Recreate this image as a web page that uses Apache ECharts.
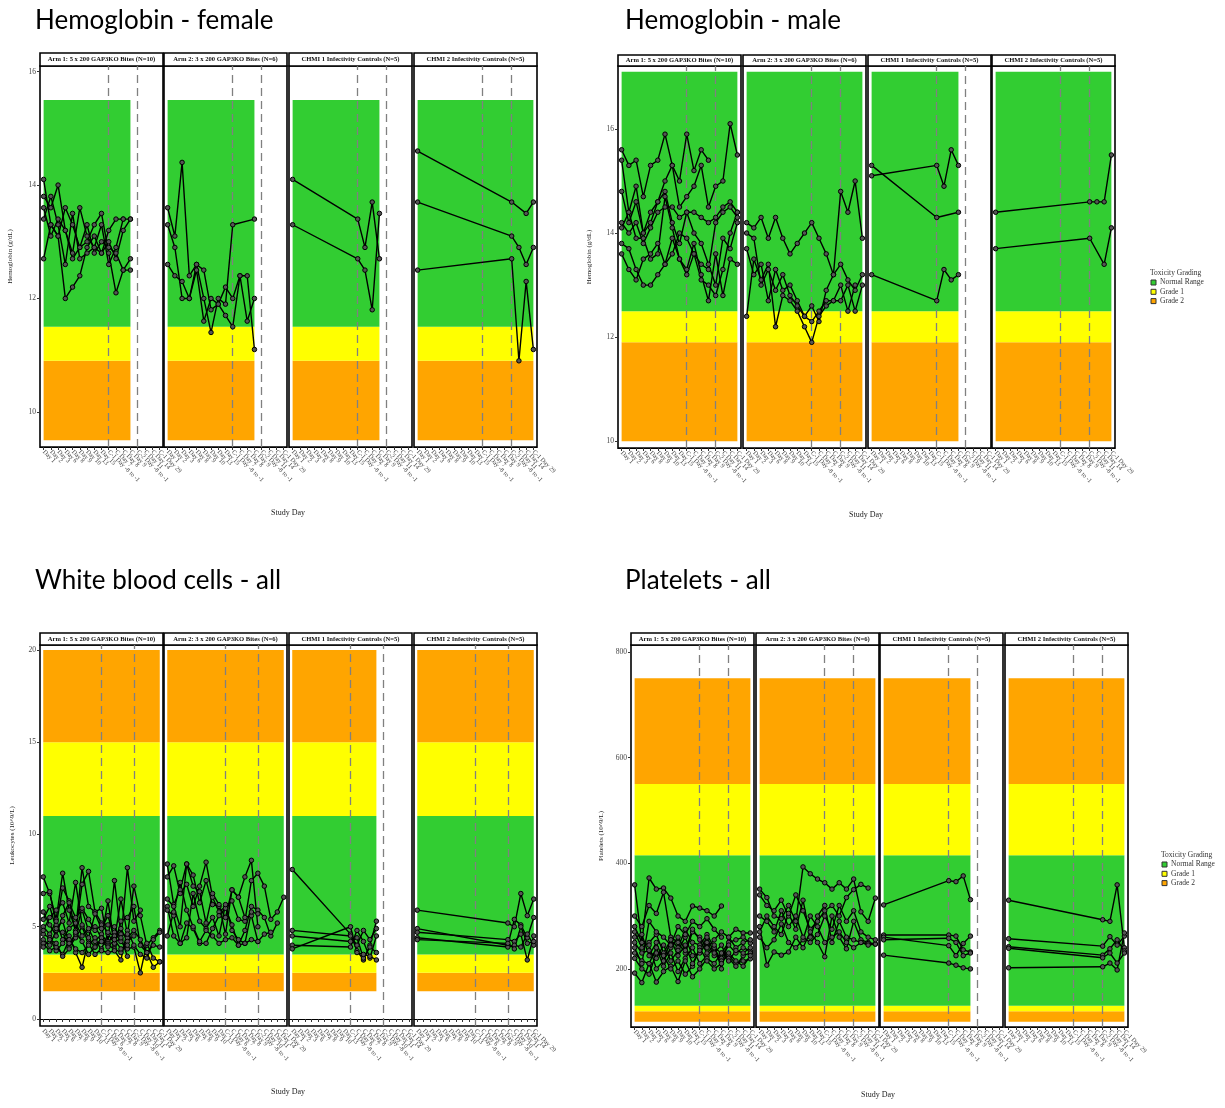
<!DOCTYPE html>
<html><head><meta charset="utf-8">
<script src="https://cdn.jsdelivr.net/npm/echarts@6/dist/echarts.min.js"></script>
<style>html,body{margin:0;padding:0;background:#fff}#c{width:1225px;height:1108px}</style>
</head><body><div id="c"></div><script>
// ---------- categories / tick labels ----------
const hbDays = ["Day 1","Day 2","Day 3","Day 6","Day 8","Day 9","Day 10","Day 13","Day 15","C-1 Day -8 to -1","C Day 7","C Day 8","C Day 9","C-2 Day -8 to -1","C Day 11","C Day 14","C-1 Day 29"];
const wbcDays = ["Day 1","Day 2","Day 3","Day 6","Day 7","Day 8","Day 9","Day 10","Day 13","C-1 Day -8 to -1","C Day 6","C Day 7","C Day 8","C Day 9","C-2 Day -8 to -1","C Day 10","C Day 11","C Day 14","C-1 Day 29"];
const facetNames = ["Arm 1: 5 x 200 GAP3KO Bites (N=10)","Arm 2: 3 x 200 GAP3KO Bites (N=6)","CHMI 1 Infectivity Controls (N=5)","CHMI 2 Infectivity Controls (N=5)"];
const gradeNames = ["Normal Range","Grade 1","Grade 2"];
const hbTicks = [10,12,14,16];
const wbcTicks = [0,5,10,15,20];
const pltTicks = [200,400,600,800];
// reference (dashed) visit indices
const hbDash = [9,13];
const wbcDash = [9,14];
// toxicity bands [low, high, grade]
const hbFemaleBands = [[9.5,10.9,"Grade 2"],[10.9,11.5,"Grade 1"],[11.5,15.5,"Normal Range"]];
const hbMaleBands = [[10.0,11.9,"Grade 2"],[11.9,12.5,"Grade 1"],[12.5,17.1,"Normal Range"]];
const wbcBands = [[1.5,2.5,"Grade 2"],[2.5,3.5,"Grade 1"],[3.5,11,"Normal Range"],[11,15,"Grade 1"],[15,20,"Grade 2"]];
const pltBands = [[100,120,"Grade 2"],[120,130,"Grade 1"],[130,415,"Normal Range"],[415,550,"Grade 1"],[550,750,"Grade 2"]];
const _ = null;
// ---------- Hemoglobin female ----------
const hbFemArm1 = [
 [14.1,13.3,13.1,13.6,13.3,12.9,13.0,13.3,13.5,12.8,12.1,12.5,12.5],
 [13.8,13.6,14.0,13.2,12.8,13.6,13.1,12.9,12.8,13.2,13.4,13.4,_],
 [13.6,13.1,13.4,13.2,12.7,12.9,13.3,12.8,13.0,12.9,12.8,12.5,12.7],
 [12.7,13.3,13.1,12.0,12.2,12.4,12.9,13.1,12.8,13.0,12.7,13.2,13.4],
 [13.4,13.8,13.3,12.6,13.5,12.7,12.8,12.9,13.3,12.6,12.9,13.4,13.4]
];
const hbFemArm2 = [
 [13.6,13.1,14.4,12.4,12.6,12.0,11.4,12.0,11.9,13.3,_,_,13.4],
 [13.3,12.9,12.0,12.0,12.6,12.5,11.8,11.9,11.7,11.5,12.4,12.4,11.1],
 [12.6,12.4,12.3,12.0,12.5,11.6,12.0,11.9,12.2,12.0,12.4,11.6,12.0]
];
const hbFemChmi1 = [
 [14.1,_,_,_,_,_,_,_,_,13.4,12.9,13.7,12.7],
 [13.3,_,_,_,_,_,_,_,_,12.7,12.5,11.8,13.5]
];
const hbFemChmi2 = [
 [14.6,_,_,_,_,_,_,_,_,_,_,_,_,13.7,_,13.5,13.7],
 [13.7,_,_,_,_,_,_,_,_,_,_,_,_,13.1,12.9,12.6,12.9],
 [12.5,_,_,_,_,_,_,_,_,_,_,_,_,12.7,10.9,12.3,11.1]
];
// ---------- Hemoglobin male ----------
const hbMaleArm1 = [
 [15.6,15.3,15.4,14.7,15.3,15.4,15.9,15.3,15.0,15.9,15.2,15.6,15.4],
 [15.4,14.4,14.9,14.0,14.4,14.6,15.0,15.3,14.5,14.7,14.9,15.3,14.5,14.9,15.0,16.1,15.5],
 [14.8,14.2,14.6,14.0,14.2,14.6,14.8,14.2,13.8,14.4,14.4,14.3,14.2,14.3,14.5,14.6,14.4],
 [13.8,13.7,13.3,13.0,13.0,13.2,13.4,13.9,13.5,13.3,13.8,13.2,12.7,13.6,12.8,13.5,13.4],
 [13.6,13.3,13.1,13.5,13.6,13.8,13.4,13.6,14.0,13.9,13.6,13.4,13.3,14.2,14.4,14.5,14.3],
 [14.1,14.4,13.9,13.9,13.5,13.6,14.7,14.1,13.5,13.2,13.6,13.1,13.0,12.8,13.3,14.0,14.4],
 [14.2,14.0,14.2,13.8,14.1,14.4,14.5,14.5,14.3,14.4,14.0,13.8,13.4,13.0,13.9,13.7,14.2]
];
const hbMaleArm2 = [
 [14.2,14.1,14.3,13.9,14.3,13.9,13.6,13.8,14.0,14.2,13.9,13.6,13.2,14.8,14.4,15.0,13.9],
 [13.7,13.2,13.4,12.7,13.3,12.9,13.0,12.7,12.4,12.3,12.5,12.7,12.7,13.0,12.5,13.0,_],
 [12.4,13.5,13.1,13.4,12.2,12.8,12.7,12.5,12.2,11.9,12.4,12.6,12.7,12.7,13.0,12.5,13.0],
 [14.0,13.9,13.0,13.3,12.9,13.2,12.8,12.6,12.4,12.6,12.3,12.9,13.2,13.4,13.1,12.9,13.2]
];
const hbMaleChmi1 = [
 [15.1,_,_,_,_,_,_,_,_,15.3,14.9,15.6,15.3],
 [15.3,_,_,_,_,_,_,_,_,14.3,_,_,14.4],
 [13.2,_,_,_,_,_,_,_,_,12.7,13.3,13.1,13.2]
];
const hbMaleChmi2 = [
 [14.4,_,_,_,_,_,_,_,_,_,_,_,_,14.6,14.6,14.6,15.5],
 [13.7,_,_,_,_,_,_,_,_,_,_,_,_,13.9,_,13.4,14.1]
];
// ---------- White blood cells ----------
const wbcArm1 = [
 [7.7,6.8,5.4,7.9,5.9,4.8,8.2,6.1,5.8,6.0,4.2,7.5,4.6,4.5,7.2,5.6,4.0,4.4,4.8],
 [6.8,6.9,5.1,7.1,6.4,4.7,7.3,8.0,5.8,5.2,5.1,5.0,4.3,8.2,5.3,5.9],
 [5.8,5.1,4.5,5.6,6.3,5.5,5.9,4.8,5.0,4.4,6.4,4.0,5.3,5.5,6.1,4.0,3.6,4.0,3.9],
 [5.0,4.6,5.3,4.3,4.9,5.2,4.5,4.9,4.2,4.6,4.1,4.7,4.2,3.8,3.9,2.5,4.1,3.3,3.1],
 [4.6,4.4,3.7,4.1,4.5,3.6,2.8,4.3,3.9,4.4,4.0,3.8,3.6,4.4,4.8,4.3,3.6,2.8,3.1],
 [4.3,4.0,4.8,4.7,3.9,4.4,5.0,4.1,3.5,3.8,4.6,4.1,4.4,3.4],
 [4.1,3.7,3.9,3.5,4.3,3.8,3.6,4.0,4.4,3.7,3.6,3.7,3.2,4.8,4.0,3.5,3.3,4.3,4.7],
 [5.4,6.1,4.9,5.3,4.1,4.6,6.0,5.4,4.8,5.1,4.7,4.5,4.9,4.2,4.5],
 [4.8,5.5,5.9,6.3,5.2,7.4,5.1,4.4,5.7,4.9,5.6,4.3,6.5,4.6],
 [3.9,4.3,4.1,3.4,3.8,4.7,4.2,3.5,3.9,4.2,3.9,4.3,3.8,4.0]
];
const wbcArm2 = [
 [8.4,6.2,7.0,8.4,7.8,6.3,7.5,6.2,6.1,5.5,7.0,6.6,7.7,8.6,5.0],
 [7.7,8.3,6.8,7.3,6.1,7.2,8.5,6.6,5.8,6.1,6.4,5.4,5.3,7.5,7.9,7.2,5.4,5.8,6.6],
 [6.5,6.1,5.0,8.4,7.2,6.9,5.2,6.8,6.2,4.6,7.0,6.6,5.5,5.6,4.2],
 [6.1,4.5,4.1,5.2,4.9,4.1,4.1,4.9,5.6,6.0,5.1,4.0,4.8,6.1,5.9,5.5,4.5,5.2],
 [5.9,5.6,4.1,4.4,6.8,5.3,4.9,5.5,4.5,6.2,4.8,4.3,4.1,5.8,5.7],
 [4.5,5.8,7.4,5.9,5.0,4.2,4.8,4.5,4.1,4.3,4.4,4.0,4.1,4.3,4.2,4.6,4.7]
];
const wbcChmi1 = [
 [8.1,_,_,_,_,_,_,_,_,4.6,3.7,3.2,4.0,5.3],
 [4.8,_,_,_,_,_,_,_,_,4.5,4.0,4.8,4.3,4.9],
 [4.5,_,_,_,_,_,_,_,_,4.2,4.4,3.3,3.9,3.6],
 [4.0,_,_,_,_,_,_,_,_,3.9,4.8,4.2,3.3,4.5],
 [3.8,_,_,_,_,_,_,_,_,5.0,3.6,3.5,3.4,3.2]
];
const wbcChmi2 = [
 [5.9,_,_,_,_,_,_,_,_,_,_,_,_,_,5.2,5.0,6.8,5.6,6.5],
 [4.9,_,_,_,_,_,_,_,_,_,_,_,_,_,4.0,5.4,5.1,4.4,5.5],
 [4.7,_,_,_,_,_,_,_,_,_,_,_,_,_,4.3,4.2,4.6,3.2,4.5],
 [4.4,_,_,_,_,_,_,_,_,_,_,_,_,_,3.9,4.0,3.9,4.6,4.0],
 [4.3,_,_,_,_,_,_,_,_,_,_,_,_,_,4.1,3.8,5.0,4.1,4.2]
];
// ---------- Platelets ----------
const pltArm1 = [
 [359,250,372,351,353,334,300,290,319,315,310,300,319],
 [300,280,320,305,345,260,250,230,270,260,240,255,270,260,275,268,268],
 [270,240,250,265,230,255,240,275,250,245,265,240,230,250,255,260,249],
 [250,230,235,220,245,215,235,260,225,230,250,225,220,245,230,240,234],
 [230,215,210,240,205,230,195,220,240,210,225,240,215,225,210,215,219],
 [192,174,210,175,195,205,176,215,185,200,220,210,230,220,205,225,230],
 [260,265,225,250,215,240,260,235,275,255,230,245,200,260,240,250,255],
 [220,200,190,230,225,200,215,190,205,240,215,200,210,230,215,205,225],
 [240,210,290,270,260,245,280,265,290,280,295,275,260],
 [280,250,245,200,215,255,225,245,210,235,260,230,245,215,235,230,240]
];
const pltArm2 = [
 [351,335,300,295,320,290,393,380,370,363,351,363,351,370,308,290,334],
 [340,320,310,330,300,340,310,275,290,310,320,300,335,350,360,353],
 [280,207,232,226,232,260,240,270,250,223,300,260,238,290,255,250,247],
 [270,300,280,265,305,275,330,260,300,320,250,290,260,255,250,248],
 [260,240,255,285,250,240,255,300,280,250,260,270,250,240,250,245,247],
 [300,290,270,310,280,300,260,250,265,300,275,320,290,310,270,260,255]
];
const pltChmi1 = [
 [321,_,_,_,_,_,_,_,_,367,365,376,331],
 [264,_,_,_,_,_,_,_,_,264,262,236,232],
 [260,_,_,_,_,_,_,_,_,244,225,248,262],
 [226,_,_,_,_,_,_,_,_,211,207,202,200],
 [255,_,_,_,_,_,_,_,_,258,250,225,230]
];
const pltChmi2 = [
 [330,_,_,_,_,_,_,_,_,_,_,_,_,293,290,359,240],
 [257,_,_,_,_,_,_,_,_,_,_,_,_,243,261,245,262],
 [242,_,_,_,_,_,_,_,_,_,_,_,_,226,238,255,234],
 [239,_,_,_,_,_,_,_,_,_,_,_,_,221,230,211,230],
 [202,_,_,_,_,_,_,_,_,_,_,_,_,204,211,198,268]
];

// ---------- layout (styles/positions) ----------
const gradeColor = {"Normal Range":"#32CD32","Grade 1":"#FFFF00","Grade 2":"#FFA500"};
const SERIF = "'Liberation Serif','DejaVu Serif',serif";
const panels = [
 {title:"Hemoglobin - female", tx:35, ty:21, lefts:[40,164,289,414], top:66, h:381, w:123, stripH:13,
  ymin:9.38, ymax:16.1, ticks:hbTicks, ylab:"Hemoglobin (g/dL)", ylx:10, sdx:288, sdy:513,
  cats:hbDays, dash:hbDash, bands:hbFemaleBands, data:[hbFemArm1,hbFemArm2,hbFemChmi1,hbFemChmi2]},
 {title:"Hemoglobin - male", tx:625, ty:21, lefts:[618,743,868,992], top:66, h:382, w:123, stripH:11,
  ymin:9.87, ymax:17.21, ticks:hbTicks, ylab:"Hemoglobin (g/dL)", ylx:589, sdx:866, sdy:515,
  cats:hbDays, dash:hbDash, bands:hbMaleBands, data:[hbMaleArm1,hbMaleArm2,hbMaleChmi1,hbMaleChmi2],
  legend:{x:1150, y:273}},
 {title:"White blood cells - all", tx:35, ty:581, lefts:[40,164,289,414], top:645, h:381, w:123, stripH:12,
  ymin:-0.38, ymax:20.27, ticks:wbcTicks, ylab:"Leukocytes (10^9/L)", ylx:12, sdx:288, sdy:1092,
  cats:wbcDays, dash:wbcDash, bands:wbcBands, data:[wbcArm1,wbcArm2,wbcChmi1,wbcChmi2]},
 {title:"Platelets - all", tx:625, ty:581, lefts:[631,756,880,1005], top:645, h:382, w:123, stripH:12,
  ymin:90, ymax:813, ticks:pltTicks, ylab:"Platelets (10^9/L)", ylx:601, sdx:878, sdy:1095,
  cats:hbDays, dash:hbDash, bands:pltBands, data:[pltArm1,pltArm2,pltChmi1,pltChmi2],
  legend:{x:1161, y:855}}
];

const grid=[], xAxis=[], yAxis=[], series=[], graphic=[];
let g=0;
panels.forEach(p=>{
  graphic.push({type:'text', x:p.tx, y:p.ty, style:{text:p.title, font:"26px Lato, 'Open Sans', sans-serif", fill:'#000', verticalAlign:'middle'}});
  graphic.push({type:'text', x:p.ylx, y:p.top+p.h/2, rotation:Math.PI/2, style:{text:p.ylab, font:"7px "+SERIF, fill:'#222', align:'center', verticalAlign:'middle'}});
  graphic.push({type:'text', x:p.sdx, y:p.sdy, style:{text:'Study Day', font:"8px "+SERIF, fill:'#222', align:'center', verticalAlign:'middle'}});
  if(p.legend){
    const L=p.legend;
    graphic.push({type:'text', x:L.x, y:L.y, style:{text:'Toxicity Grading', font:"7.5px "+SERIF, fill:'#333', verticalAlign:'middle'}});
    gradeNames.forEach((nm,i)=>{
      graphic.push({type:'rect', shape:{x:L.x+1, y:L.y+7+i*9.3, width:5, height:5}, style:{fill:gradeColor[nm], stroke:'#333', lineWidth:1}});
      graphic.push({type:'text', x:L.x+10, y:L.y+9.5+i*9.3, style:{text:nm, font:"7.5px "+SERIF, fill:'#333', verticalAlign:'middle'}});
    });
  }
  p.data.forEach((subjects,f)=>{
    const left=p.lefts[f];
    grid.push({left:left, top:p.top, width:p.w, height:p.h, show:true, borderColor:'#000', borderWidth:1.6, backgroundColor:'#fff', containLabel:false});
    graphic.push({type:'rect', shape:{x:left, y:p.top-p.stripH, width:p.w, height:p.stripH}, style:{fill:'#fff', stroke:'#000', lineWidth:1.6}});
    graphic.push({type:'text', x:left+p.w/2, y:p.top-p.stripH/2, style:{text:facetNames[f], font:"bold 6.6px "+SERIF, fill:'#111', align:'center', verticalAlign:'middle'}});
    xAxis.push({type:'category', gridIndex:g, data:p.cats, boundaryGap:true,
      axisLine:{show:true, lineStyle:{color:'#000', width:1}},
      axisTick:{show:true, alignWithLabel:true, interval:0, length:3, lineStyle:{color:'#333'}},
      axisLabel:{interval:0, rotate:-45, fontSize:6.4, color:'#444', fontFamily:SERIF, margin:4},
      splitLine:{show:false}});
    const first = f===0;
    yAxis.push({type:'value', gridIndex:g, min:p.ymin, max:p.ymax,
      axisLine:{show:false},
      axisTick:{show:first, length:3, customValues:p.ticks, lineStyle:{color:'#333'}},
      axisLabel:{show:first, customValues:p.ticks, fontSize:7.5, color:'#444', fontFamily:SERIF, margin:4},
      splitLine:{show:false}});
    let last=0;
    subjects.forEach(s=>s.forEach((v,i)=>{ if(v!==null && i>last) last=i; }));
    const empty=p.cats.map(()=>null);
    series.push({type:'line', xAxisIndex:g, yAxisIndex:g, data:empty, silent:true, z:1, symbol:'none',
      markArea:{silent:true, data:p.bands.map(b=>[{xAxis:0, yAxis:b[0], itemStyle:{color:gradeColor[b[2]], opacity:1}},{xAxis:last, yAxis:b[1]}])}});
    series.push({type:'line', xAxisIndex:g, yAxisIndex:g, data:empty, silent:true, z:2, symbol:'none',
      markLine:{silent:true, symbol:'none', label:{show:false}, animation:false,
        lineStyle:{color:'#808080', type:[8,5], width:1.3}, data:p.dash.map(d=>({xAxis:d}))}});
    subjects.forEach(s=>{
      const d=p.cats.map((c,i)=> (i<s.length ? s[i] : null));
      series.push({type:'line', xAxisIndex:g, yAxisIndex:g, data:d, connectNulls:true, z:5,
        symbol:'circle', symbolSize:4.5, showAllSymbol:true, silent:true,
        lineStyle:{color:'#000', width:1.4}, itemStyle:{color:'#555', borderColor:'#000', borderWidth:1}});
    });
    g++;
  });
});

const chart=echarts.init(document.getElementById('c'), null, {renderer:'canvas'});
chart.setOption({animation:false, backgroundColor:'#fff', grid, xAxis, yAxis, series, graphic});
</script></body></html>
